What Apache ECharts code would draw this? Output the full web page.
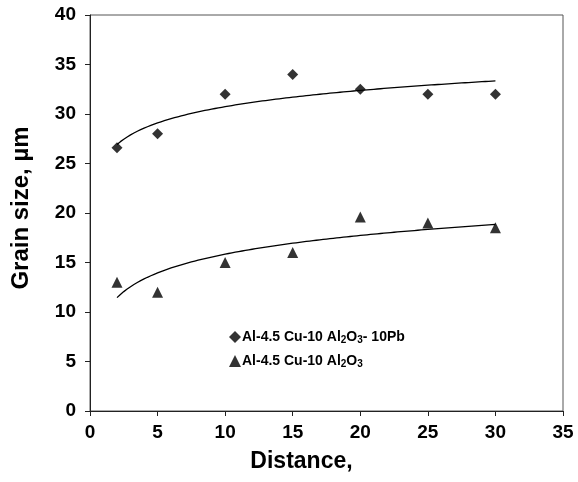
<!DOCTYPE html>
<html>
<head>
<meta charset="utf-8">
<script src="https://cdn.jsdelivr.net/npm/echarts@6/dist/echarts.min.js"></script>
<style>
  html, body { margin: 0; padding: 0; background: #fff; }
  #chart { width: 578px; height: 482px; }
</style>
</head>
<body>
<div id="chart"></div>
<script>
// distances where grain size was measured
var distance = [2, 5, 10, 15, 20, 25, 30];
// Al-4.5 Cu-10 Al2O3-10Pb (diamonds)
var grainPb = [26.6, 28, 32, 34, 32.5, 32, 32];
// Al-4.5 Cu-10 Al2O3 (triangles)
var grainBase = [13, 12, 15, 16, 19.6, 19, 18.5];
var xTicks = [0, 5, 10, 15, 20, 25, 30, 35];
var yTicks = [0, 5, 10, 15, 20, 25, 30, 35, 40];

var FONT = 'Liberation Sans, Arial, sans-serif';

// logarithmic trend line (least squares on ln x), like the spreadsheet one
function logTrend(xs, ys) {
    var n = xs.length, lx = xs.map(Math.log);
    var mx = lx.reduce(function (a, b) { return a + b; }, 0) / n;
    var my = ys.reduce(function (a, b) { return a + b; }, 0) / n;
    var sxy = 0, sxx = 0;
    for (var i = 0; i < n; i++) {
        sxy += (lx[i] - mx) * (ys[i] - my);
        sxx += (lx[i] - mx) * (lx[i] - mx);
    }
    var b = sxy / sxx, a = my - b * mx;
    var pts = [];
    for (var x = xs[0]; x <= xs[n - 1] + 1e-9; x += 0.25) {
        pts.push([x, a + b * Math.log(x)]);
    }
    return pts;
}

function pairs(xs, ys) {
    return xs.map(function (x, i) { return [x, ys[i]]; });
}

var chart = echarts.init(document.getElementById('chart'));
var axisLabel = { color: '#000', fontFamily: FONT, fontWeight: 'bold', fontSize: 19 };
var rich = {
    a: { fontFamily: FONT, fontSize: 14, fontWeight: 'bold', color: '#000' },
    s: { fontFamily: FONT, fontSize: 10, fontWeight: 'bold', color: '#000', padding: [6, 0, 0, 0] }
};

chart.setOption({
    backgroundColor: '#fff',
    animation: false,
    grid: {
        left: 90, right: 15, top: 15, bottom: 71,
        outerBoundsMode: 'none',
        show: true, borderColor: '#555', borderWidth: 1
    },
    legend: {
        left: 224, top: 325,
        orient: 'vertical',
        itemGap: 9,
        itemWidth: 12, itemHeight: 12,
        data: [
            { name: 'pb', icon: 'diamond' },
            { name: 'base', icon: 'triangle' }
        ],
        formatter: function (name) {
            if (name === 'pb') return '{a|Al-4.5 Cu-10 Al}{s|2}{a|O}{s|3}{a|- 10Pb}';
            return '{a|Al-4.5 Cu-10 Al}{s|2}{a|O}{s|3}';
        },
        textStyle: { rich: rich, padding: [0, 0, 0, -4] }
    },
    xAxis: {
        type: 'value', min: xTicks[0], max: xTicks[xTicks.length - 1], interval: 5,
        name: 'Distance,', nameLocation: 'middle', nameGap: 39,
        nameTextStyle: { color: '#000', fontFamily: FONT, fontWeight: 'bold', fontSize: 23, padding: [0, 50, 0, 0] },
        axisLine: { lineStyle: { color: '#222', width: 1 } },
        axisTick: { length: 5, lineStyle: { color: '#222' } },
        axisLabel: Object.assign({ margin: 12 }, axisLabel),
        splitLine: { show: false }
    },
    yAxis: {
        type: 'value', min: yTicks[0], max: yTicks[yTicks.length - 1], interval: 5,
        name: 'Grain size, µm', nameLocation: 'middle', nameGap: 57,
        nameTextStyle: { color: '#000', fontFamily: FONT, fontWeight: 'bold', fontSize: 24, padding: [0, 0, 0, 10] },
        axisLine: { show: true, lineStyle: { color: '#222', width: 1 } },
        axisTick: { show: true, length: 5, lineStyle: { color: '#222' } },
        axisLabel: Object.assign({ margin: 14 }, axisLabel),
        splitLine: { show: false }
    },
    series: [
        {
            name: 'pb', type: 'scatter', symbol: 'diamond', symbolSize: 11,
            itemStyle: { color: '#000' }, data: pairs(distance, grainPb), z: 3
        },
        {
            name: 'base', type: 'scatter', symbol: 'triangle', symbolSize: 11,
            itemStyle: { color: '#000' }, data: pairs(distance, grainBase), z: 3
        },
        {
            type: 'line', showSymbol: false, silent: true,
            lineStyle: { color: '#000', width: 1.3 }, data: logTrend(distance, grainPb)
        },
        {
            type: 'line', showSymbol: false, silent: true,
            lineStyle: { color: '#000', width: 1.3 }, data: logTrend(distance, grainBase)
        }
    ]
});
</script>
</body>
</html>
